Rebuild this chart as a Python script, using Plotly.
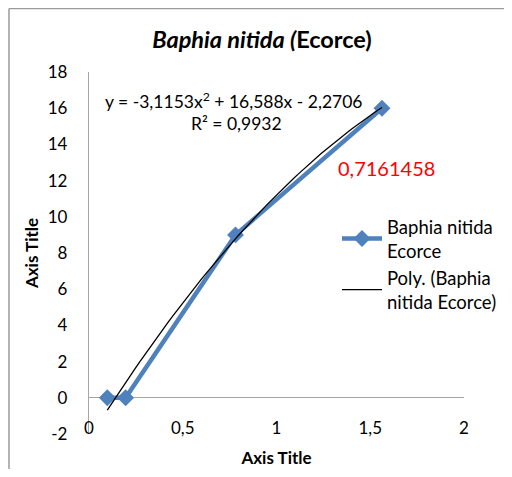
import plotly.graph_objects as go

# Data
x_vals = [0.0977, 0.1953, 0.7813, 1.5625]
y_vals = [0, 0, 9, 16]
series_name = "Baphia nitida<br>Ecorce"
trend_name = "Poly. (Baphia<br>nitida Ecorce)"
poly_coefs = [-3.1153, 16.588, -2.2706]  # a x^2 + b x + c (from chart equation)
equation_text = "y = -3,1153x<sup>2</sup> + 16,588x - 2,2706"
r2_text = "R² = 0,9932"
red_value_text = "0,7161458"
x_ticks = [0, 0.5, 1, 1.5, 2]
x_ticktext = ["0", "0,5", "1", "1,5", "2"]
y_ticks = [-2, 0, 2, 4, 6, 8, 10, 12, 14, 16, 18]
y_ticktext = ["-2", "0", "2", "4", "6", "8", "10", "12", "14", "16", "18"]

# Trendline via polynomial coefficients over data range
n = 60
xmin, xmax = min(x_vals), max(x_vals)
trend_x = [xmin + (xmax - xmin) * i / (n - 1) for i in range(n)]
trend_y = [poly_coefs[0] * t * t + poly_coefs[1] * t + poly_coefs[2] for t in trend_x]

OFF = 8  # page body margin
W, H = 512 - 2 * OFF, 477 - 2 * OFF
L, R, T, B = 89 - OFF, 464 - OFF, 72 - OFF, 434 - OFF

def px(xp):
    return (xp - OFF - L) / (R - L)

def py(yp):
    return (B - (yp - OFF)) / (B - T)

FONT = "Lato, Carlito, Calibri, sans-serif"

fig = go.Figure()
fig.add_trace(go.Scatter(
    x=x_vals, y=y_vals, mode="lines+markers", name=series_name,
    line=dict(color="#4F81BD", width=4.5),
    marker=dict(symbol="diamond", size=13, color="#4F81BD"),
))
fig.add_trace(go.Scatter(
    x=trend_x, y=trend_y, mode="lines", name=trend_name,
    line=dict(color="black", width=1.3),
))

border = dict(color="#9A9A9A", width=1.5)

fig.update_layout(
    width=W, height=H,
    margin=dict(l=L, r=W - R, t=T, b=H - B, autoexpand=False),
    paper_bgcolor="white", plot_bgcolor="white",
    font=dict(family=FONT, size=17, color="black"),
    title=dict(
        text="<b><i>Baphia nitida (</i>Ecorce)</b>",
        xref="container", x=(262 - OFF) / W, xanchor="center",
        y=1 - (40 - OFF) / H, yanchor="middle",
        font=dict(size=23.5, family=FONT),
    ),
    showlegend=True,
    legend=dict(
        x=px(337), y=py(208), xanchor="left", yanchor="top",
        bgcolor="rgba(0,0,0,0)", font=dict(size=18.5, family=FONT),
        tracegroupgap=27, itemwidth=40,
    ),
    xaxis=dict(
        range=[0, 2], tickvals=x_ticks, ticktext=x_ticktext,
        showgrid=False, zeroline=False, automargin=False,
        showline=False, ticks="", anchor="free", position=py(416),
        tickfont=dict(size=17),
        title=dict(text="<b>Axis Title</b>", font=dict(size=17), standoff=15),
    ),
    yaxis=dict(
        range=[-2, 18], tickvals=y_ticks, ticktext=y_ticktext, showgrid=False,
        zeroline=True, zerolinecolor="#A6A6A6", zerolinewidth=1.3,
        showline=True, linecolor="#A6A6A6", linewidth=1.3, ticks="",
        automargin=False,
        tickfont=dict(size=17), ticklabelstandoff=17,
        title=dict(text="<b>Axis Title</b>", font=dict(size=17), standoff=4),
    ),
    shapes=[
        dict(type="line", xref="paper", yref="paper",
             x0=px(9), x1=px(520), y0=py(8.5), y1=py(8.5), line=border, layer="below"),
        dict(type="line", xref="paper", yref="paper",
             x0=px(9), x1=px(9), y0=py(8.5), y1=py(490), line=border, layer="below"),
    ],
    annotations=[
        dict(text=equation_text, x=px(234), y=py(101), xref="paper", yref="paper",
             showarrow=False, font=dict(size=17.5), xanchor="center", yanchor="middle"),
        dict(text=r2_text, x=px(236), y=py(124), xref="paper", yref="paper",
             showarrow=False, font=dict(size=17.5), xanchor="center", yanchor="middle"),
        dict(text=red_value_text, x=px(386), y=py(168), xref="paper", yref="paper",
             showarrow=False, font=dict(size=20, color="red"), xanchor="center", yanchor="middle"),
    ],
)

fig.write_html("out.html")
